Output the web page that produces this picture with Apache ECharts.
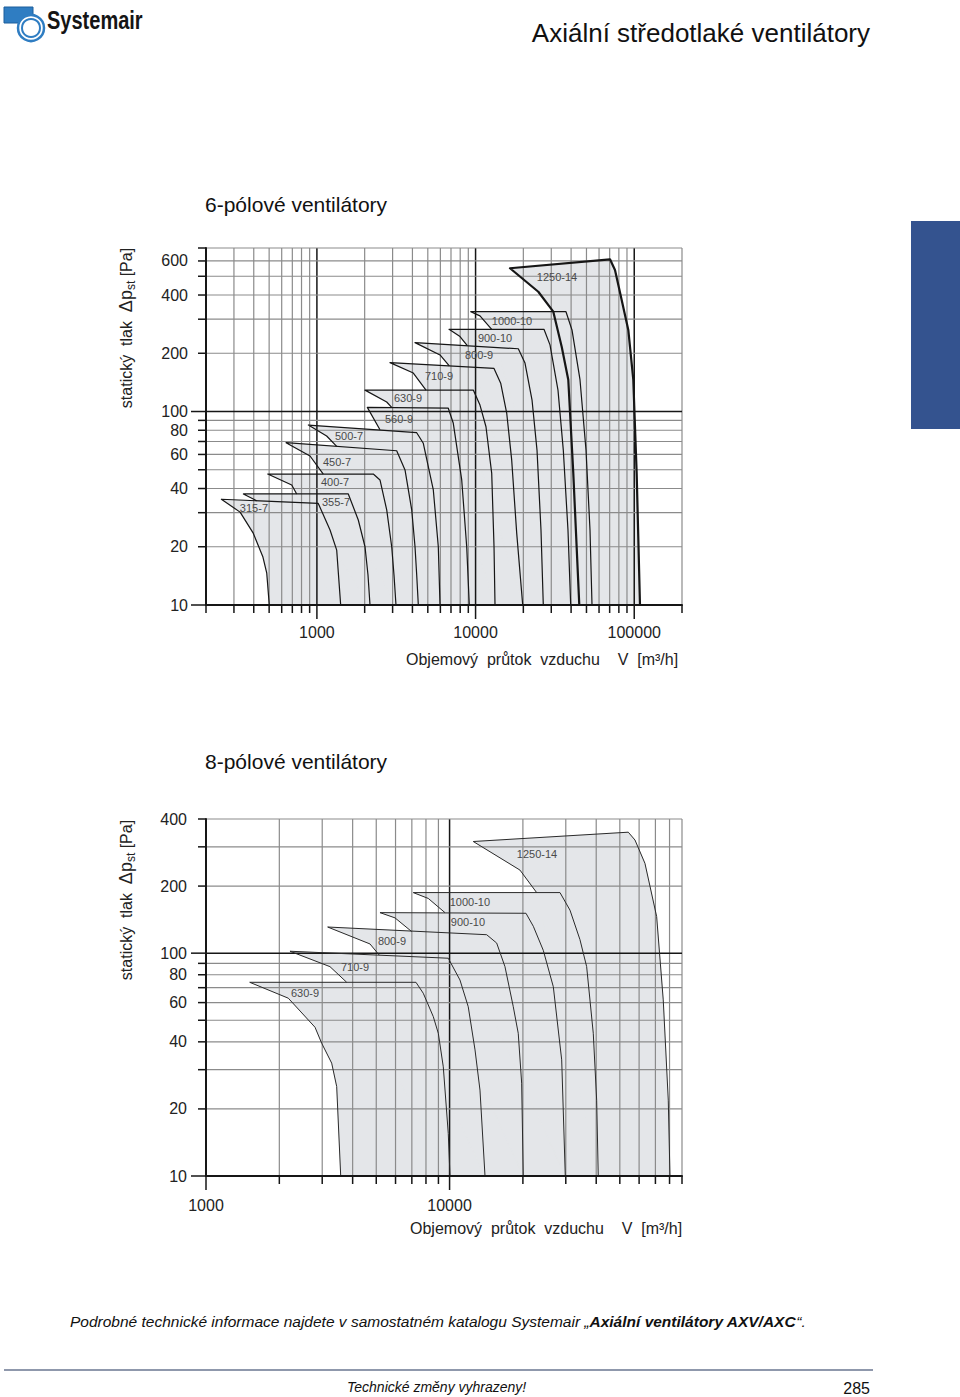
<!DOCTYPE html>
<html>
<head>
<meta charset="utf-8">
<script src="https://cdn.jsdelivr.net/npm/echarts@6.0.0/dist/echarts.min.js"></script>
<style>
html,body{margin:0;padding:0;background:#fff;}
#c{width:960px;height:1397px;}
</style>
</head>
<body>
<div id="c"></div>
<script>
// ================= DATA: 6-pole fans (flow m3/h, static pressure Pa) =================
const fan6Names = ['315-7','355-7','400-7','450-7','500-7','560-9','630-9','710-9','800-9','900-10','1000-10','1250-14'];
// stall side: from the upper-left start point down the left boundary
const fan6Stall = [
  [[250,35.2],[328,30.2],[396,23.6],[457,17.7],[483,14.6],[501,10]],
  [[344,37.5],[417,34.6]],
  [[490,47.5],[694,41.7],[746,37.5]],
  [[639,69.0],[905,58.9],[1097,47.5]],
  [[883,85.1],[1152,74.7],[1333,66]],
  [[2078,105],[2498,80.5]],
  [[2010,129],[2754,112],[2961,105]],
  [[2889,179],[4052,158],[4871,129]],
  [[4153,227],[5969,196],[6830,172]],
  [[6800,266],[7979,244],[8870,219]],
  [[9318,328],[10660,312],[12640,266]],
  [[16480,550],[24850,416],[30900,328],[34900,216],[38400,146],[41300,47.9],[45050,10]]
];
// operating curve: from the top-right knee down to 10 Pa
const fan6Curve = [
  [[1020,33.5],[1210,24.4],[1333,19.2],[1368,14.3],[1412,10]],
  [[1577,37.5],[1823,27.5],[2010,20.0],[2099,14.3],[2161,10]],
  [[2267,47.5],[2498,44.3],[2754,31.0],[2961,20.0],[3061,14.3],[3151,10]],
  [[3183,62.7],[3592,49.9],[3959,31.0],[4153,20.0],[4256,14.3],[4357,10]],
  [[4256,77.7],[4684,68.5],[5416,39.3],[5823,20],[5969,10]],
  [[6731,104],[7238,86.9],[8179,44.3],[8793,20],[9130,10]],
  [[9675,129],[10660,108],[11630,83.4],[12640,47.9],[13070,20],[13260,10]],
  [[13070,167],[14400,140],[15710,98.2],[16890,56.2],[18160,23.6],[19820,10]],
  [[18590,211],[20490,178],[22680,115],[24390,63.2],[25840,24.4],[26720,10]],
  [[26990,266],[29450,221],[33070,129],[35720,63.2],[38230,24.4],[39760,10]],
  [[37140,328],[40520,264],[45510,146],[49660,63.2],[52630,24.4],[54180,10]],
  [[70350,612],[75630,539],[83340,377],[91750,264],[98640,146],[103600,47.9],[108700,10]]
];
const fan6LabelAt = [[401,31.7],[1320,34.1],[1300,43.2],[1338,54.8],[1594,74.7],[3292,91.5],[3752,117],[5882,153],[10510,196],[13260,240],[16970,294],[32610,496]];
const x6Range = [200, 200000];
const y6Range = [10, 700];
const x6TickLabels = [1000, 10000, 100000];
const y6TickLabels = [10, 20, 40, 60, 80, 100, 200, 400, 600];

// ================= DATA: 8-pole fans =================
const fan8Names = ['630-9','710-9','800-9','900-10','1000-10','1250-14'];
const fan8Stall = [
  [[1512,74],[2177,62.8],[2803,46.5],[2986,39.4],[3281,32.1],[3440,25.2],[3573,10]],
  [[2212,102],[3228,87],[3781,74]],
  [[3159,131],[4712,110],[5145,98]],
  [[5180,152],[5970,144],[6988,125]],
  [[7095,187],[8177,176],[9574,152]],
  [[12510,317],[19450,236],[22780,187]]
];
const fan8Curve = [
  [[7278,74],[7798,66.1],[8573,51.9],[8989,43.7],[9423,30.9],[9878,15.5],[10040,10]],
  [[9878,94.9],[11030,75.8],[11930,57.5],[12720,36.8],[13330,24.3],[13980,10]],
  [[14200,121],[15610,111],[16880,87],[18260,57.5],[19140,43.7],[19770,26.1],[20070,10]],
  [[20590,151],[22070,132],[24250,103],[26660,70.7],[28860,33.2],[29860,10]],
  [[28400,187],[31210,156],[34300,115],[36540,87],[38900,43.7],[40170,21.9],[40780,10]],
  [[54160,349],[57690,322],[63400,253],[70820,146],[75380,61.7],[79050,21.9],[80330,10]]
];
const fan8LabelAt = [[2549,66.3],[4090,86.7],[5800,113],[11900,138],[12120,170],[22850,279]];
const x8Range = [1000, 90000];
const y8Range = [10, 400];
const x8TickLabels = [1000, 10000];
const y8TickLabels = [10, 20, 40, 60, 80, 100, 200, 400];

// ================= helpers =================
const FONT = '"Liberation Sans", Arial, Helvetica, sans-serif';
const FILL = '#e4e6e9';
const GRID_GRAY = '#8b8b8b';
const INK = '#161616';

function isMajor(v){ const l = Math.log10(v); return Math.abs(l - Math.round(l)) < 1e-9; }
function gridValues(r){
  const out = [];
  for (let d = Math.pow(10, Math.floor(Math.log10(r[0]) + 1e-9)); d <= r[1]; d *= 10) {
    for (let m = 1; m <= 9; m++) { const v = Math.round(m * d); if (v >= r[0] - 1e-9 && v <= r[1] + 1e-9) out.push(v); }
  }
  return out;
}

function fillSeries(idx, stalls, curves, yr){
  return {
    type:'custom', xAxisIndex:idx, yAxisIndex:idx, z:1, silent:true, encode:{x:0,y:1},
    data: stalls.map((s,i)=>[s[0][0], s[0][1], i]),
    renderItem(params, api){
      const i = api.value(2);
      const st = stalls[i], cv = curves[i];
      const pts = [st[0]].concat(cv);
      const end = st[st.length-1];
      if (end[1] > yr[0] && i > 0) { const pc = curves[i-1]; pts.push(pc[pc.length-1]); }
      for (let k = st.length-1; k >= 1; k--) pts.push(st[k]);
      return {type:'polygon', shape:{points: pts.map(p=>api.coord(p))}, style:{fill: FILL, stroke: FILL, lineWidth:0.5}};
    }
  };
}

function outlineSeries(idx, stalls, curves, widthFn, color){
  return {
    type:'custom', xAxisIndex:idx, yAxisIndex:idx, z:3, silent:true, encode:{x:0,y:1},
    data: stalls.map((s,i)=>[s[0][0], s[0][1], i]),
    renderItem(params, api){
      const i = api.value(2);
      const pts = stalls[i].slice().reverse().concat(curves[i]);
      return {type:'polyline', shape:{points: pts.map(p=>api.coord(p))},
              style:{stroke: color, lineWidth: widthFn(i), fill: null, lineJoin:'round'}};
    }
  };
}

function fanLabelSeries(idx, names, at){
  return {
    type:'custom', xAxisIndex:idx, yAxisIndex:idx, z:4, silent:true, encode:{x:0,y:1},
    data: at.map((p,i)=>[p[0], p[1], i]),
    renderItem(params, api){
      const c = api.coord([api.value(0), api.value(1)]);
      return {type:'text', x:c[0], y:c[1], style:{text: names[api.value(2)], fill:'#4a4a4a',
        fontSize:11, fontFamily:FONT, align:'center', textAlign:'center', verticalAlign:'middle', textVerticalAlign:'middle'}};
    }
  };
}

function gridSeries(idx, xr, yr){
  const data = [];
  gridValues(xr).forEach(v=>data.push([v, yr[0], 0, isMajor(v)?1:0]));
  gridValues(yr).forEach(v=>data.push([xr[0], v, 1, isMajor(v)?1:0]));
  return {
    type:'custom', xAxisIndex:idx, yAxisIndex:idx, z:2, silent:true, encode:{x:0,y:1}, data,
    renderItem(params, api){
      const dir = api.value(2), major = api.value(3);
      const stroke = major ? INK : GRID_GRAY;
      const lw = major ? 1.5 : 1.2;
      if (dir === 0) {
        const v = api.value(0);
        const b = api.coord([v, yr[0]]), t = api.coord([v, yr[1]]);
        return {type:'group', children:[
          {type:'line', shape:{x1:b[0], y1:t[1], x2:b[0], y2:b[1]}, style:{stroke, lineWidth:lw}},
          {type:'line', shape:{x1:b[0], y1:b[1], x2:b[0], y2:b[1] + (major?14:8)}, style:{stroke:INK, lineWidth:1.5}}
        ]};
      } else {
        const v = api.value(1);
        const l = api.coord([xr[0], v]), r = api.coord([xr[1], v]);
        return {type:'group', children:[
          {type:'line', shape:{x1:l[0], y1:l[1], x2:r[0], y2:l[1]}, style:{stroke, lineWidth:lw}},
          {type:'line', shape:{x1:l[0] - (major?15:8), y1:l[1], x2:l[0], y2:l[1]}, style:{stroke:INK, lineWidth:1.5}}
        ]};
      }
    }
  };
}

function tickLabelSeries(idx, xt, yt, xr, yr, dy, dx){
  const data = [];
  xt.forEach(v=>data.push([v, yr[0], 0]));
  yt.forEach(v=>data.push([xr[0], v, 1]));
  return {
    type:'custom', xAxisIndex:idx, yAxisIndex:idx, z:4, silent:true, encode:{x:0,y:1}, data,
    renderItem(params, api){
      const dir = api.value(2);
      const c = api.coord([api.value(0), api.value(1)]);
      const t = String(dir === 0 ? api.value(0) : api.value(1));
      if (dir === 0) {
        return {type:'text', x:c[0], y:c[1] + dy, style:{text:t, fill:'#222', fontSize:16, fontFamily:FONT,
          align:'center', textAlign:'center', verticalAlign:'middle', textVerticalAlign:'middle'}};
      }
      return {type:'text', x:c[0] - dx, y:c[1], style:{text:t, fill:'#222', fontSize:16, fontFamily:FONT,
        align:'right', textAlign:'right', verticalAlign:'middle', textVerticalAlign:'middle'}};
    }
  };
}

function axisPair(idx, xr, yr){
  const common = {axisTick:{show:false}, axisLabel:{show:false}, splitLine:{show:false}, z:10,
                  axisLine:{show:true, onZero:false, lineStyle:{color:INK, width:2}}};
  return [
    Object.assign({gridIndex:idx, type:'log', logBase:10, min:xr[0], max:xr[1]}, common),
    Object.assign({gridIndex:idx, type:'log', logBase:10, min:yr[0], max:yr[1]}, common)
  ];
}

const ax6 = axisPair(0, x6Range, y6Range);
const ax8 = axisPair(1, x8Range, y8Range);

function txt(x, y, text, size, opts){
  opts = opts || {};
  const style = Object.assign({text, fontSize:size, fontFamily:FONT, fill:'#111',
    align:'left', textAlign:'left', verticalAlign:'middle', textVerticalAlign:'middle'}, opts.style || {});
  const el = {type:'text', x, y, silent:true, style};
  Object.keys(opts).forEach(k => { if (k !== 'style') el[k] = opts[k]; });
  return el;
}

function yName(x, y){
  return {type:'text', x, y, rotation:Math.PI/2, silent:true, style:{
    text:'{a|statický\u00a0 tlak\u00a0 }{d|Δp}{s|st}{a| [Pa]}', align:'center', textAlign:'center',
    verticalAlign:'middle', textVerticalAlign:'middle', fill:'#222', fontFamily:FONT,
    rich:{a:{fontSize:16, fontFamily:FONT, fill:'#222'}, d:{fontSize:18, fontFamily:FONT, fill:'#222'},
          s:{fontSize:12, fontFamily:FONT, fill:'#222', padding:[9,0,0,0]}}
  }};
}
const X_NAME = 'Objemový\u00a0 průtok\u00a0 vzduchu\u00a0\u00a0\u00a0 V\u00a0 [m³/h]';

const option = {
  animation:false,
  backgroundColor:'#fff',
  grid:[{left:206, top:248, width:476, height:357}, {left:206, top:819, width:476, height:357}],
  xAxis:[ax6[0], ax8[0]],
  yAxis:[ax6[1], ax8[1]],
  series:[
    fillSeries(0, fan6Stall, fan6Curve, y6Range),
    gridSeries(0, x6Range, y6Range),
    outlineSeries(0, fan6Stall, fan6Curve, i => (i === fan6Names.length-1 ? 2.2 : 1.2), INK),
    fanLabelSeries(0, fan6Names, fan6LabelAt),
    tickLabelSeries(0, x6TickLabels, y6TickLabels, x6Range, y6Range, 27, 18),

    fillSeries(1, fan8Stall, fan8Curve, y8Range),
    gridSeries(1, x8Range, y8Range),
    outlineSeries(1, fan8Stall, fan8Curve, () => 1, '#2a2a2a'),
    fanLabelSeries(1, fan8Names, fan8LabelAt),
    tickLabelSeries(1, x8TickLabels, y8TickLabels, x8Range, y8Range, 29, 19)
  ],
  graphic:[
    // logo
    {type:'rect', silent:true, shape:{x:4, y:7, width:29, height:16}, style:{fill:'#2f7dc2', stroke:'#1d5f9c', lineWidth:1}},
    {type:'circle', silent:true, shape:{cx:31, cy:28, r:13}, style:{fill:'#fff', stroke:'#2f7dc2', lineWidth:2.5}},
    {type:'circle', silent:true, shape:{cx:31, cy:28, r:9}, style:{fill:'none', stroke:'#2f7dc2', lineWidth:2}},
    txt(47, 20, 'Systemair', 26, {scaleX:0.77, style:{fill:'#151515', fontWeight:'bold'}}),
    // page title
    txt(870, 33, 'Axiální středotlaké ventilátory', 26, {style:{align:'right', textAlign:'right', fill:'#111'}}),
    // blue side tab
    {type:'rect', silent:true, shape:{x:911, y:221, width:49, height:208}, style:{fill:'#34538f'}},
    // chart titles
    txt(205, 204, '6-pólové ventilátory', 21),
    txt(205, 761, '8-pólové ventilátory', 21),
    // axis names
    yName(126, 328),
    yName(126, 900),
    txt(406, 659, X_NAME, 16, {style:{fill:'#222'}}),
    txt(410, 1228, X_NAME, 16, {style:{fill:'#222'}}),
    // footer
    {type:'text', x:70, y:1321, silent:true, style:{
      text:'{i|Podrobné technické informace najdete v samostatném katalogu Systemair „}{b|Axiální ventilátory AXV/AXC}{i|“.}',
      align:'left', textAlign:'left', verticalAlign:'middle', textVerticalAlign:'middle',
      rich:{i:{fontSize:15.5, fontStyle:'italic', fontFamily:FONT, fill:'#111'},
            b:{fontSize:15.5, fontStyle:'italic', fontWeight:'bold', fontFamily:FONT, fill:'#111'}}}},
    {type:'line', silent:true, shape:{x1:4, y1:1370, x2:873, y2:1370}, style:{stroke:'#8f98ac', lineWidth:2}},
    txt(347, 1387, 'Technické změny vyhrazeny!', 14, {style:{fontStyle:'italic', fill:'#111'}}),
    txt(870, 1388, '285', 16, {style:{align:'right', textAlign:'right', fill:'#111'}})
  ]
};

const chart = echarts.init(document.getElementById('c'), null, {renderer:'svg', width:960, height:1397});
chart.setOption(option);
</script>
</body>
</html>
